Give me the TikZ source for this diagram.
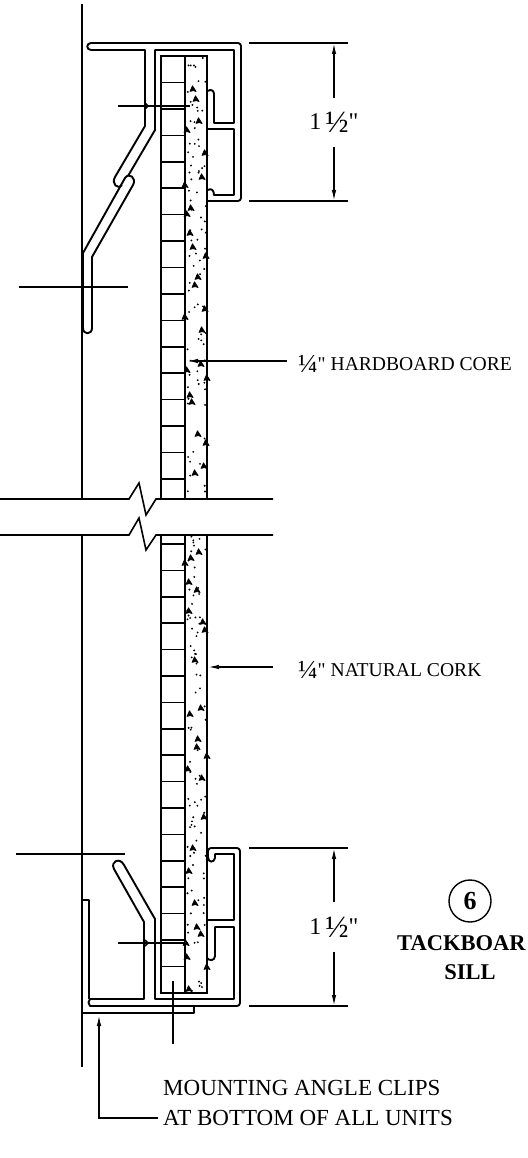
\documentclass[tikz,border=0pt]{standalone}
\usepackage{fontspec}
\setmainfont[Ligatures=TeXOff]{Liberation Serif}
\newcommand{\bigfrac}[2]{\raisebox{-0.12em}{\fontsize{#2}{#2}\selectfont #1}}
\usetikzlibrary{arrows.meta}

\begin{document}
\begin{tikzpicture}[x=1pt, y=-1pt,
	profile/.style={line width=1.9pt, line join=round},
	thinline/.style={line width=1.6pt},
	leader/.style={line width=1.4pt, -{Latex[length=11pt,width=4.5pt]}},
	small label/.style={anchor=west, inner sep=0pt, font=\fontsize{19.6}{22}\selectfont},
	big label/.style={anchor=west, inner sep=0pt, font=\fontsize{23}{26}\selectfont},
	title label/.style={inner sep=0pt, font=\bfseries\fontsize{22.5}{26}\selectfont}]
	\useasboundingbox (0,0) rectangle (527,1158);
	% wall and break lines
	\draw[thinline] (82,4) -- (82,499);
	\draw[thinline] (82,535) -- (82,1067);
	\draw[thinline] (0,499) -- (129,499) -- (139,483) -- (146,515) -- (156,499) -- (273,499);
	\draw[thinline] (0,535) -- (129,535) -- (139,518) -- (146,550) -- (156,535) -- (273,535);
	% panel faces
	\draw[thinline] (161,499) -- (161,56) -- (207,56) -- (207,499);
	\draw[thinline] (185,56) -- (185,499);
	\draw[thinline] (161,535) -- (161,993) -- (207,993) -- (207,535);
	\draw[thinline] (185,535) -- (185,993);
	\foreach \k in {0,...,15}
		\draw[thinline] (161,82.7+26.4*\k) -- (185,82.7+26.4*\k);
	\foreach \k in {0,...,16}
		\draw[thinline] (161,544+26.4*\k) -- (185,544+26.4*\k);
	% cork specks
	\pgfmathsetseed{4127}
	\foreach \k in {1,...,170} {
		\pgfmathsetmacro\px{187+rnd*19}
		\pgfmathsetmacro\py{58+rnd*895}
		\pgfmathsetmacro\py{\py>497?\py+38:\py}
		\fill (\px,\py) circle (1.05);
	}
	\foreach \px/\py in {193/89,196/99,199/121,187/130,205/153,202/177,185/185,191/208,187/214,190/233,193/247,206/256,198/277,195/285,205/309,185/317,202/330,201/364,187/370,207/378,190/395,192/402,198/434,206/443,204/466,195/473,199/552,191/558,185/563,189/582,197/590,189/611,203/622,205/630,195/660,201/708,190/714,198/739,197/747,207/756,188/769,202/778,204/817,193/848,189/871,195/903,197/927,201/934,186/943,187/957,207/967,189/989}
		\fill[line join=round, draw=black, line width=0.7pt] (\px-3,\py+2.4) -- (\px-0.5,\py-3.2) -- (\px+3.2,\py+2.6) -- (\px+0.3,\py+1.6) -- cycle;
	% top clip
	\draw[profile] (91,50) .. controls (86,50) and (86,43) .. (91,43) [rounded corners=3pt] -- (241,43) -- (241,201) [sharp corners] -- (208,201);
	\draw[profile] (91,50) -- (145,50) -- (145,126) -- (115,177) .. controls (111,184) and (118,190) .. (122,185);
	\draw[profile] (128,176) -- (155,130) -- (155,50) -- (234,50) -- (234,123) -- (214,123) -- (214,94) .. controls (214,90) and (210,89) .. (208,91);
	\draw[profile] (208,129) -- (234,129) -- (234,195) -- (214,195) .. controls (214,190) and (211,188) .. (208,190);
	\draw[profile] (83,253) -- (125,178) .. controls (129,172) and (137,178) .. (133,185) -- (92,257) -- (92,328) .. controls (92,335) and (83,335) .. (83,328) -- cycle;
	% bottom clip
	\draw[profile] (208,920) -- (234,920) -- (234,854) -- (215,854) -- (215,858) .. controls (214,863) and (208,863) .. (208,857) [rounded corners=3pt] -- (208,848) -- (240,848) -- (240,1006) [sharp corners] -- (90,1006) .. controls (88,1004) and (88,1001) .. (90,999) -- (144,999) -- (144,922) -- (114,869) .. controls (110,861) and (120,857) .. (124,865) -- (155,919) -- (155,999) -- (234,999) -- (234,927) -- (215,927) -- (215,956) .. controls (215,961) and (209,961) .. (207,958);
	\draw[profile] (89,999) -- (89,900) -- (82,900) -- (82,1013) -- (194,1013) -- (194,1006);
	% fasteners
	\draw[thinline] (118,106) -- (190,106);
	\draw[thinline] (145,103) -- (148,106) -- (145,109);
	\draw[thinline] (19,287) -- (128,287);
	\draw[thinline] (118,943) -- (188,943);
	\draw[thinline] (145,940) -- (148,943) -- (145,946);
	\draw[thinline] (16,854) -- (125,854);
	\draw[thinline] (173,981) -- (173,1044);
	% dimensions
	\coordinate (topfirst) at (249,43);
	\coordinate (topsecond) at (249,201);
	\coordinate (botfirst) at (249,848);
	\coordinate (botsecond) at (249,1006);
	\draw[thinline] (topfirst) -- ++(99,0);
	\draw[thinline] (topsecond) -- ++(99,0);
	\draw[thinline] (botfirst) -- ++(99,0);
	\draw[thinline] (botsecond) -- ++(99,0);
	\node[inner sep=0pt, minimum height=49pt, font=\fontsize{24}{28}\selectfont] (topdim) at (334,122.5) {1\,\bigfrac{½}{31}"};
	\draw[leader] (topdim.north) -- (topdim.north |- topfirst);
	\draw[leader] (topdim.south) -- (topdim.south |- topsecond);
	\node[inner sep=0pt, minimum height=49pt, font=\fontsize{24}{28}\selectfont] (botdim) at (334,927) {1\,\bigfrac{½}{31}"};
	\draw[leader] (botdim.north) -- (botdim.north |- botfirst);
	\draw[leader] (botdim.south) -- (botdim.south |- botsecond);
	% labels
	\node[small label] (hardboard) at (298,364) {\bigfrac{¼}{26}" HARDBOARD CORE};
	\coordinate (hardpoint) at (187,361);
	\draw[leader] (hardboard.west |- hardpoint) ++(-11,0) -- (hardpoint);
	\node[small label] (naturalcork) at (298,670) {\bigfrac{¼}{26}" NATURAL CORK};
	\coordinate (corkpoint) at (208,667);
	\draw[leader] (naturalcork.west |- corkpoint) ++(-25,0) -- (corkpoint);
	\node[big label] (mountfirst) at (163,1088) {MOUNTING ANGLE CLIPS};
	\node[big label] (mountsecond) at (163,1118) {AT BOTTOM OF ALL UNITS};
	\coordinate (mountpoint) at (99,1015);
	\draw[leader] (mountsecond.west) ++(-5,0) -| (mountpoint);
	\node[draw, circle, line width=1.4pt, minimum size=42pt, inner sep=0pt, font=\bfseries\fontsize{26}{28}\selectfont] (sheetmark) at (470,901) {6};
	\node[title label, anchor=west] (tackboard) at (397,943) {TACKBOAR};
	\node[title label] (sill) at (470,972) {SILL};
\end{tikzpicture}
\end{document}
